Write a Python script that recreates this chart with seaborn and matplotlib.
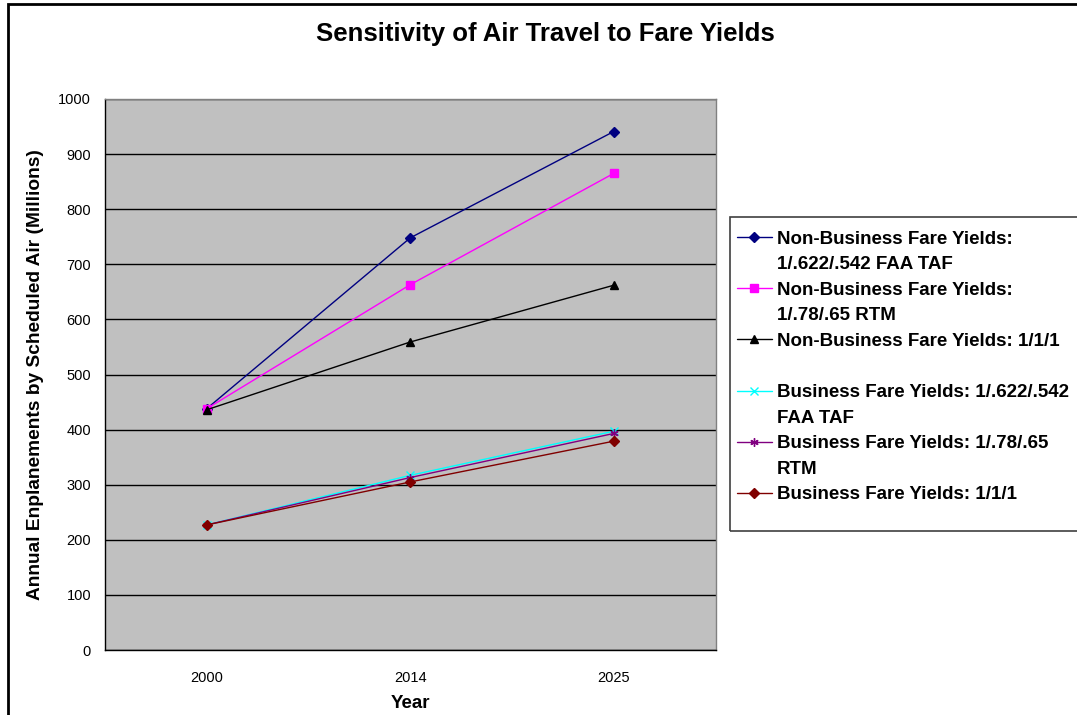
import pandas as pd
import seaborn as sns
import matplotlib.pyplot as plt
from matplotlib.lines import Line2D
from matplotlib.patches import Rectangle

# chart values
years = ['2000', '2014', '2025']
nb_faa = [438, 748, 941]
nb_rtm = [438, 663, 865]
nb_111 = [436, 559, 662]
b_faa = [227, 317, 397]
b_rtm = [227, 313, 393]
b_111 = [227, 305, 379]

series_names = [
    'Non-Business Fare Yields: 1/.622/.542 FAA TAF',
    'Non-Business Fare Yields: 1/.78/.65 RTM',
    'Non-Business Fare Yields: 1/1/1',
    'Business Fare Yields: 1/.622/.542 FAA TAF',
    'Business Fare Yields: 1/.78/.65 RTM',
    'Business Fare Yields: 1/1/1',
]
legend_lines = [
    ('Non-Business Fare Yields:', '1/.622/.542 FAA TAF'),
    ('Non-Business Fare Yields:', '1/.78/.65 RTM'),
    ('Non-Business Fare Yields: 1/1/1', ' '),
    ('Business Fare Yields: 1/.622/.542', 'FAA TAF'),
    ('Business Fare Yields: 1/.78/.65', 'RTM'),
    ('Business Fare Yields: 1/1/1', None),
]
colors = ['#000080', '#FF00FF', '#000000', '#00FFFF', '#800080', '#800000']
marks = ['D', 's', '^', 'x', (6, 2, 0), 'D']
msizes = [5, 6, 6, 6, 6, 5]

values = [nb_faa, nb_rtm, nb_111, b_faa, b_rtm, b_111]
rows = []
for name, vals in zip(series_names, values):
    for y, v in zip(years, vals):
        rows.append({'Year': y, 'Value': v, 'Series': name})
df = pd.DataFrame(rows)

sns.set_style('white')
plt.rcParams['font.family'] = ['Liberation Sans', 'DejaVu Sans']
plt.rcParams['text.color'] = 'black'
plt.rcParams['axes.labelcolor'] = 'black'
plt.rcParams['xtick.color'] = 'black'
plt.rcParams['ytick.color'] = 'black'

fig = plt.figure(figsize=(10.77, 7.15), dpi=100)
ax = fig.add_axes([105 / 1077, 65 / 715, 610.5 / 1077, 551 / 715])

# one call per series: filled and line-art markers can't share a style map
for name, c, m, ms in zip(series_names, colors, marks, msizes):
    sub = df[df['Series'] == name]
    sns.lineplot(data=sub, x='Year', y='Value', color=c, marker=m,
                 markersize=ms, markeredgecolor=c, markeredgewidth=1,
                 linewidth=1, ax=ax, legend=False)

ax.set_facecolor('#C0C0C0')
ax.set_xlim(-0.5, 2.5)
ax.set_ylim(0, 1000)
ax.set_yticks(range(0, 1001, 100))
ax.yaxis.grid(True, color='black', linewidth=1)
ax.set_axisbelow(True)
ax.set_xticks([0, 1, 2])
ax.set_xticklabels(years)
ax.set_xticks([-0.5, 0.5, 1.5, 2.5], minor=True)
ax.tick_params(axis='x', which='major', length=0, pad=15, labelsize=10.5)
ax.tick_params(axis='x', which='minor', length=5, width=1, color='black', direction='out')
ax.tick_params(axis='y', length=5, width=1, color='black', direction='out', labelsize=10.5, pad=5)
for side in ['top', 'right']:
    ax.spines[side].set_color('#808080')
    ax.spines[side].set_linewidth(1)
for side in ['left', 'bottom']:
    ax.spines[side].set_color('black')
    ax.spines[side].set_linewidth(1)

ax.set_xlabel('Year', fontsize=13.5, fontweight='bold', labelpad=7)
ax.set_ylabel('Annual Enplanements by Scheduled Air (Millions)', fontsize=13.8,
              fontweight='bold', labelpad=10)

fig.text(545 / 1077, 1 - 34 / 715, 'Sensitivity of Air Travel to Fare Yields',
         ha='center', va='center', fontsize=18.5, fontweight='bold')

# legend: one row per text line, marker on the first line of each entry
handles, labels = [], []
blank = Line2D([], [], linestyle='none', marker='none')
for c, m, ms, (l1, l2) in zip(colors, marks, msizes, legend_lines):
    handles.append(Line2D([], [], color=c, marker=m, markersize=ms,
                          markeredgecolor=c, linewidth=1))
    labels.append(l1)
    if l2 is not None:
        handles.append(blank)
        labels.append(l2)
leg = fig.legend(handles, labels, loc='upper left',
                 bbox_to_anchor=(730 / 1077, 1 - 224 / 715),
                 frameon=False, prop={'weight': 'bold', 'size': 13.5},
                 handlelength=1.9, handletextpad=0.25, labelspacing=0.45,
                 borderpad=0.35, borderaxespad=0, handleheight=0.7)

# legend box, running off the right edge like the reference
fig.patches.append(Rectangle((730 / 1077, 1 - 531 / 715), 0.4, 314 / 715,
                             transform=fig.transFigure, fill=False,
                             edgecolor='#404040', linewidth=1.2))

# outer chart border (left and top visible)
fig.patches.append(Rectangle((8 / 1077, -0.1), 1.2, 1 - 4 / 715 + 0.1,
                             transform=fig.transFigure, fill=False,
                             edgecolor='black', linewidth=2))

fig.savefig('out.png', dpi=100)
